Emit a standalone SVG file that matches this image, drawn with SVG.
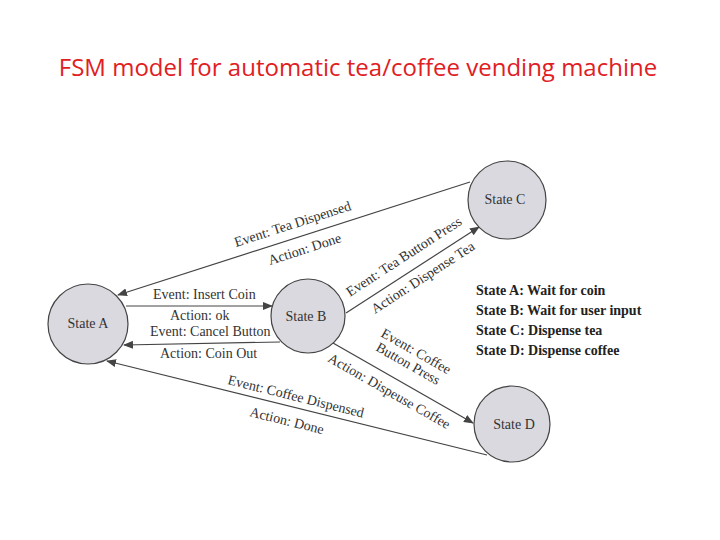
<svg xmlns="http://www.w3.org/2000/svg" width="720" height="540" viewBox="0 0 720 540">
<style>
.st{fill:#d9d9df;stroke:#444;stroke-width:1.2}
.t{font-family:"Liberation Serif",serif;font-size:14px;fill:#333}
.c{stroke:#444;stroke-width:1.2;fill:none;marker-end:url(#ar)}
.lg{font-family:"Liberation Serif",serif;font-size:14px;font-weight:bold;fill:#222}
</style>
<defs><marker id="ar" markerWidth="10" markerHeight="8" refX="9" refY="4" orient="auto" markerUnits="userSpaceOnUse"><path d="M0,0 L10,4 L0,8 Z" fill="#444"/></marker></defs>
<rect width="720" height="540" fill="#fff"/>
<text x="358" y="76" text-anchor="middle" font-family="'Open Sans','Liberation Sans',sans-serif" font-size="24" fill="#e0201f">FSM model for automatic tea/coffee vending machine</text>
<g id="connectors">
<path class="c" d="M470,182 L118,295"/>
<path class="c" d="M126,306 L272,306"/>
<path class="c" d="M280,342 L124,345"/>
<path class="c" d="M346,313 L479,227"/>
<path class="c" d="M333,343 L473,423"/>
<path class="c" d="M487,455 L107,361"/>
<text class="t" transform="translate(236,247) rotate(-17.8)">Event: Tea Dispensed</text>
<text class="t" transform="translate(270,265) rotate(-17.8)">Action: Done</text>
<text class="t" x="153" y="299">Event: Insert Coin</text>
<text class="t" x="170" y="320">Action: ok</text>
<text class="t" x="150" y="336">Event: Cancel Button</text>
<text class="t" x="160" y="358">Action: Coin Out</text>
<text class="t" transform="translate(350,297) rotate(-33)">Event: Tea Button Press</text>
<text class="t" transform="translate(375,314) rotate(-33)">Action: Dispense Tea</text>
<text class="t" transform="translate(380,336) rotate(29.7)">Event: Coffee</text>
<text class="t" transform="translate(375,350) rotate(29.7)">Button Press</text>
<text class="t" transform="translate(327,361) rotate(29.7)">Action: Dispeuse Coffee</text>
<text class="t" transform="translate(227,384) rotate(13.9)">Event: Coffee Dispensed</text>
<text class="t" transform="translate(249,416) rotate(13.9)">Action: Done</text>
</g>
<g id="stateA"><circle class="st" cx="88" cy="324" r="40"/><text class="t" x="88" y="328" text-anchor="middle">State A</text></g>
<g id="stateB"><circle class="st" cx="308" cy="316" r="37"/><text class="t" x="306" y="321" text-anchor="middle">State B</text></g>
<g id="stateC"><circle class="st" cx="507" cy="200" r="39"/><text class="t" x="505" y="204" text-anchor="middle">State C</text></g>
<g id="stateD"><circle class="st" cx="512" cy="424" r="38"/><text class="t" x="514" y="429" text-anchor="middle">State D</text></g>
<g id="legend">
<text class="lg" x="476" y="295">State A: Wait for coin</text>
<text class="lg" x="476" y="315">State B: Wait for user input</text>
<text class="lg" x="476" y="335">State C: Dispense tea</text>
<text class="lg" x="476" y="355">State D: Dispense coffee</text>
</g>
</svg>
